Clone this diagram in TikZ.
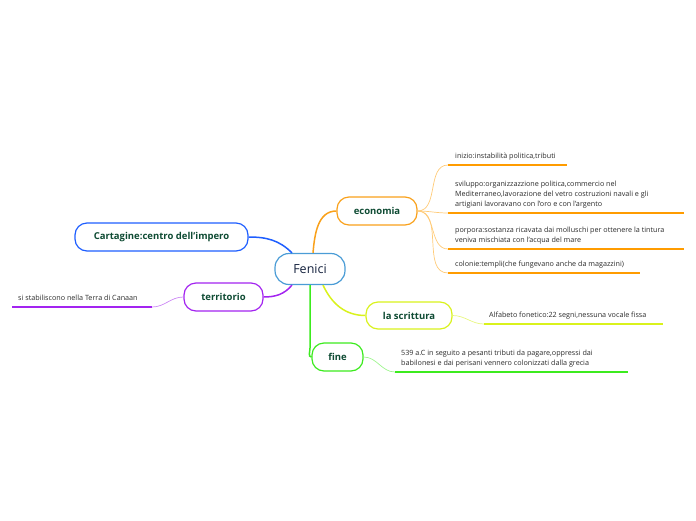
\documentclass[tikz,border=0pt]{standalone}
\usepackage{fontspec}
\setmainfont{Open Sans}
\usepackage{tikz}
\usetikzlibrary{arrows.meta}

\definecolor{ecoOrange}{HTML}{F9A11B}
\definecolor{ecoLine}{HTML}{FF9C00}
\definecolor{ecoLight}{HTML}{FFCB78}
\definecolor{fenBlue}{HTML}{4A9CD6}
\definecolor{cartBlue}{HTML}{1E5EFF}
\definecolor{terPurple}{HTML}{A324F0}
\definecolor{terLight}{HTML}{CC88F5}
\definecolor{scrYellow}{HTML}{D9F21C}
\definecolor{scrLight}{HTML}{E8F780}
\definecolor{finGreen}{HTML}{3CEB1E}
\definecolor{finLight}{HTML}{9EF58E}
\definecolor{labelGreen}{HTML}{0E4B33}
\definecolor{fenText}{HTML}{14213D}
\definecolor{leafGrey}{HTML}{2B2B2B}

\begin{document}
\begin{tikzpicture}[x=1pt,y=-1pt,
    topic/.style={draw,fill=white,rounded corners=12pt,line width=1.2pt,minimum height=28pt,
        inner sep=0pt,text=labelGreen,font=\fontsize{9.5}{11}\selectfont\bfseries},
    leaftext/.style={anchor=south west,inner sep=0pt,align=left,text depth=1.8pt,
        text=leafGrey,font=\fontsize{7.2}{10}\selectfont},
    leafline/.style={line width=2pt},
    leafcurve/.style={line width=0.7pt},
    branch/.style={line width=1.5pt}]
    \useasboundingbox (0,0) rectangle (696,520);

    % central topic
    \node [draw=fenBlue,fill=white,rounded corners=14pt,line width=1.2pt,minimum width=70pt,
        minimum height=31pt,inner sep=0pt,text=fenText,font=\fontsize{12.5}{14}\selectfont] (fenici) at (310,269) {Fenici};

    % main topics
    \node [topic,draw=ecoOrange,minimum width=80pt] (eco) at (377,211) {economia};
    \node [topic,draw=cartBlue,minimum width=173pt] (cart) at (161.5,237) {Cartagine:centro dell'impero};
    \node [topic,draw=terPurple,minimum width=79pt] (terr) at (223.5,297) {territorio};
    \node [topic,draw=scrYellow,minimum width=86pt,minimum height=27pt] (scr) at (409,315.5) {la scrittura};
    \node [topic,draw=finGreen,minimum width=51pt] (fine) at (337.5,357) {fine};

    % branches
    \draw [branch,ecoOrange] ([xshift=3pt]fenici.north) to[out=85,in=180] (eco.west);
    \draw [branch,cartBlue] (cart.east) to[out=0,in=135] ([xshift=-18pt]fenici.north);
    \draw [branch,terPurple] (terr.east) to[out=0,in=-130] ([xshift=-18pt]fenici.south);
    \draw [branch,scrYellow] ([xshift=13pt]fenici.south) to[out=-65,in=180] (scr.west);
    \draw [branch,finGreen] (fenici.south) -- (310,348) to[out=-90,in=180] (fine.west);

    % economia
    \coordinate (e1a) at (448,165); \coordinate (e1b) at (567,165);
    \coordinate (e2a) at (448,213); \coordinate (e2b) at (684,213);
    \coordinate (e3a) at (448,249); \coordinate (e3b) at (684,249);
    \coordinate (e4a) at (448,273); \coordinate (e4b) at (640,273);
    \foreach \n in {e1,e2,e3,e4} {
        \draw [leafcurve,ecoLight] (eco.east) to[out=0,in=180] (\n a);
        \draw [leafline,ecoLine] (\n a) -- (\n b);
    }
    \node [leaftext] (inizio) at (455,160) {inizio:instabilità politica,tributi};
    \node [leaftext] (svil) at (455,208) {sviluppo:organizzazzione politica,commercio nel\\
        Mediterraneo,lavorazione del vetro costruzioni navali e gli\\
        artigiani lavoravano con l'oro e con l'argento};
    \node [leaftext] (porp) at (455,244) {porpora:sostanza ricavata dai molluschi per ottenere la tintura\\
        veniva mischiata con l'acqua del mare};
    \node [leaftext] (colon) at (455,268) {colonie:templi(che fungevano anche da magazzini)};

    % territorio
    \coordinate (t1a) at (152,307); \coordinate (t1b) at (12,307);
    \draw [leafcurve,terLight] (terr.west) to[out=180,in=0] (t1a);
    \draw [leafline,terPurple] (t1a) -- (t1b);
    \node [leaftext] (canaan) at (18,302) {si stabiliscono nella Terra di Canaan};

    % la scrittura
    \coordinate (s1a) at (484,324); \coordinate (s1b) at (663,324);
    \draw [leafcurve,scrLight] (scr.east) to[out=0,in=180] (s1a);
    \draw [leafline,scrYellow] (s1a) -- (s1b);
    \node [leaftext] (alfa) at (489,319) {Alfabeto fonetico:22 segni,nessuna vocale fissa};

    % fine
    \coordinate (f1a) at (395,372); \coordinate (f1b) at (628,372);
    \draw [leafcurve,finLight] (fine.east) to[out=0,in=180] (f1a);
    \draw [leafline,finGreen] (f1a) -- (f1b);
    \node [leaftext] (anno) at (401,367) {539 a.C in seguito a pesanti tributi da pagare,oppressi dai\\
        babilonesi e dai perisani vennero colonizzati dalla grecia};
\end{tikzpicture}
\end{document}
